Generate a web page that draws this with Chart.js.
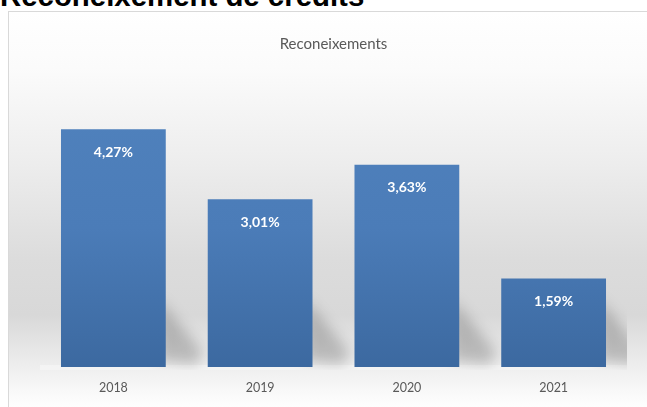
<!DOCTYPE html>
<html>
<head>
<meta charset="utf-8">
<script src="https://cdn.jsdelivr.net/npm/chart.js@4"></script>
<style>
  html,body{margin:0;padding:0;background:#fff;width:647px;height:407px;overflow:hidden;position:relative;}
  #pagetitle{position:absolute;left:0;top:-19px;font-family:"Liberation Sans",Arial,sans-serif;font-weight:bold;font-size:29.4px;line-height:29px;color:#000;white-space:nowrap;}
  #box{position:absolute;left:8px;top:11px;width:640px;height:400px;border:1px solid #d9d9d9;box-sizing:border-box;
    background:linear-gradient(to bottom,#ffffff 0%,#fbfbfb 14%,#ededed 38%,#dcdcdc 62%,#d8d8d8 76%,#ececec 88%,#f8f8f8 95%,#ffffff 100%);}
  #wrap{position:absolute;left:1px;top:1px;width:638px;height:406px;}
</style>
</head>
<body>
<div id="pagetitle">Reconeixement de crèdits</div>
<div id="box"><div id="wrap"><canvas id="c"></canvas></div></div>
<script>
const categories = ["2018", "2019", "2020", "2021"];
const values = [4.27, 3.01, 3.63, 1.59];
const chartTitle = "Reconeixements";
const yMax = 5;

const FONT = 'Lato, "Open Sans", sans-serif';
const fmt = v => v.toFixed(2).replace('.', ',') + '%';

const shadowPlugin = {
  id: 'barShadow',
  beforeDatasetsDraw(chart) {
    const ctx = chart.ctx;
    const meta = chart.getDatasetMeta(0);
    const area = chart.chartArea;
    ctx.save();
    ctx.beginPath();
    ctx.rect(area.left, area.top, area.right - area.left, area.bottom - area.top + 3);
    ctx.clip();
    ctx.fillStyle = 'rgba(255,255,255,0.35)';
    ctx.fillRect(area.left, area.bottom - 2, area.right - area.left, 6);
    ctx.filter = 'blur(7px)';
    meta.data.forEach(bar => {
      const right = bar.x + bar.width / 2;
      const base = bar.base;
      const h = Math.min(68, base - bar.y);
      ctx.beginPath();
      ctx.moveTo(right - 8, base - 6);
      ctx.lineTo(right - 8, base - h);
      ctx.lineTo(right + 38, base - 14);
      ctx.lineTo(right + 30, base - 2);
      ctx.closePath();
      ctx.fillStyle = 'rgba(0,0,0,0.2)';
      ctx.fill();
    });
    ctx.restore();
  }
};

const labelPlugin = {
  id: 'inLabels',
  afterDatasetsDraw(chart) {
    const ctx = chart.ctx;
    const meta = chart.getDatasetMeta(0);
    ctx.save();
    ctx.font = 'bold 14px ' + FONT;
    ctx.fillStyle = '#ffffff';
    ctx.textAlign = 'center';
    ctx.textBaseline = 'middle';
    meta.data.forEach((bar, i) => {
      ctx.fillText(fmt(values[i]), bar.x, bar.y + 23);
    });
    ctx.restore();
  }
};

new Chart(document.getElementById('c'), {
  type: 'bar',
  data: {
    labels: categories,
    datasets: [{
      data: values,
      backgroundColor(context) {
        const chart = context.chart;
        const a = chart.chartArea;
        if (!a) return '#4a7ab5';
        const g = chart.ctx.createLinearGradient(0, a.top, 0, a.bottom);
        g.addColorStop(0, '#5082bd');
        g.addColorStop(0.5, '#4b7cb8');
        g.addColorStop(1, '#3c69a0');
        return g;
      },
      borderWidth: 0,
      categoryPercentage: 1,
      barPercentage: 0.714
    }]
  },
  options: {
    responsive: true,
    maintainAspectRatio: false,
    animation: false,
    layout: { padding: { left: 30, right: 21, top: 0, bottom: 11 } },
    plugins: {
      legend: { display: false },
      tooltip: { enabled: false },
      title: {
        display: true,
        text: chartTitle,
        color: '#595959',
        font: { family: FONT, size: 15, weight: 'normal' },
        padding: { top: 22.5, bottom: 35 }
      }
    },
    scales: {
      x: {
        grid: { display: false, drawTicks: false },
        border: { display: false },
        ticks: { color: '#595959', padding: 13, font: { family: FONT, size: 12.5 } }
      },
      y: { display: false, min: 0, max: yMax }
    }
  },
  plugins: [shadowPlugin, labelPlugin]
});
</script>
</body>
</html>
